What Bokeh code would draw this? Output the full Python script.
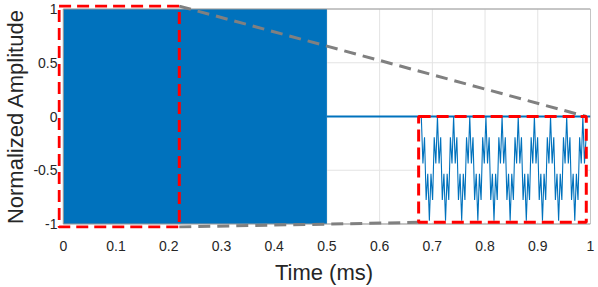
from bokeh.plotting import figure
from bokeh.models import Range1d, FixedTicker
from bokeh.embed import file_html
from bokeh.resources import INLINE

# ---------------- data ----------------
# main trace: dense burst filling +/-1 from 0 to 0.5 ms, then zero to 1 ms
burst_t = [0.0, 0.5]
burst_hi = [1.0, 1.0]
burst_lo = [-1.0, -1.0]
tail_t = [0.5, 1.0]
tail_v = [0.0, 0.0]

# inset: turning points of one period of the zoomed waveform (normalized)
period_shape = [1.0, 0.1, 0.6, -0.6, -0.1, -1.0, -0.1, -0.6, 0.6, 0.1]
period_ms = 0.0212
n_points = 103

x_ticks = [0, 0.1, 0.2, 0.3, 0.4, 0.5, 0.6, 0.7, 0.8, 0.9, 1]
x_tick_labels = ["0", "0.1", "0.2", "0.3", "0.4", "0.5", "0.6", "0.7", "0.8", "0.9", "1"]
y_ticks = [-1, -0.5, 0, 0.5, 1]
y_tick_labels = ["-1", "-0.5", "0", "0.5", "1"]

axes_x = (0.0, 1.0)
axes_y = (-1.0, 1.0)
view_x = (-0.011, 1.0)
view_y = (-1.042, 1.042)
# zoom window (left red box) and inset placement, in main-axes units
zoom_box = (-0.008, 0.22, -1.027, 1.027)      # left, right, bottom, top
inset_box = (0.674, 0.992, -0.985, 0.0)       # left, right, bottom, top
inset_window_t = (-0.0035, 0.2165)            # ms shown inside inset
inset_window_a = (-1.03, 1.0)                 # amplitude shown inside inset

# ---------------- build inset series ----------------
step = period_ms / len(period_shape)
inset_t = [i * step for i in range(n_points)]
inset_v = [period_shape[i % len(period_shape)] for i in range(n_points)]

BLUE = "#0072BD"
TXT = "#262626"
FRAME = "#9a9a9a"
FONT = "Liberation Sans"

p = figure(width=598, height=287, output_backend="svg", toolbar_location=None,
           x_range=Range1d(*view_x), y_range=Range1d(*view_y),
           min_border_left=40, min_border_right=8, min_border_top=4, min_border_bottom=0)
p.background_fill_color = "white"
p.border_fill_color = "white"
p.outline_line_color = None
p.grid.visible = False

for ax in (p.xaxis[0], p.yaxis[0]):
    ax.axis_line_color = None
    ax.major_tick_line_color = None
    ax.minor_tick_line_color = None
    ax.major_tick_in = 0
    ax.major_tick_out = 0
    ax.major_label_text_font = FONT
    ax.major_label_text_font_size = "14px"
    ax.major_label_text_color = TXT
    ax.major_label_text_line_height = 1.0
    ax.axis_label_text_font = FONT
    ax.axis_label_text_font_size = "22px"
    ax.axis_label_text_font_style = "normal"
    ax.axis_label_text_color = TXT
    ax.axis_label_text_line_height = 0.7
p.xaxis.ticker = FixedTicker(ticks=x_ticks)
p.yaxis.ticker = FixedTicker(ticks=y_ticks)
p.xaxis.major_label_overrides = dict(zip(x_ticks, x_tick_labels))
p.yaxis.major_label_overrides = dict(zip(y_ticks, y_tick_labels))
p.xaxis.axis_label = "Time (ms)"
p.yaxis.axis_label = "Normalized Amplitude"
p.xaxis.major_label_standoff = 12
p.xaxis.axis_label_standoff = 6
p.yaxis.major_label_standoff = 0
p.yaxis.axis_label_standoff = 2

# grid lines restricted to the axes box
p.segment(x0=x_ticks, y0=[axes_y[0]] * len(x_ticks), x1=x_ticks, y1=[axes_y[1]] * len(x_ticks),
          line_color="#e3e3e3", line_width=1)
p.segment(x0=[axes_x[0]] * len(y_ticks), y0=y_ticks, x1=[axes_x[1]] * len(y_ticks), y1=y_ticks,
          line_color="#e3e3e3", line_width=1)

# main trace
p.varea(x=burst_t, y1=burst_lo, y2=burst_hi, fill_color=BLUE)

# inset background
p.quad(left=[inset_box[0]], right=[inset_box[1]], bottom=[inset_box[2]], top=[inset_box[3]],
       fill_color="white", line_color=None)

p.line(tail_t, tail_v, line_color=BLUE, line_width=2.2)

# axes box
p.quad(left=[axes_x[0]], right=[axes_x[1]], bottom=[axes_y[0]], top=[axes_y[1]],
       fill_color=None, line_color=FRAME, line_width=1)

# connectors
p.segment(x0=[zoom_box[1], zoom_box[1]], y0=[zoom_box[3], zoom_box[2]],
          x1=[inset_box[1], inset_box[0]], y1=[inset_box[3], inset_box[2]],
          line_color="#808080", line_width=3, line_dash="12 7")

# inset axes via extra ranges
ix0, ix1, iy0, iy1 = inset_box
tw0, tw1 = inset_window_t
aw0, aw1 = inset_window_a
sx = (tw1 - tw0) / (ix1 - ix0)
sy = (aw1 - aw0) / (iy1 - iy0)
p.extra_x_ranges = {"inset": Range1d(tw0 + (view_x[0] - ix0) * sx, tw0 + (view_x[1] - ix0) * sx)}
p.extra_y_ranges = {"inset": Range1d(aw0 + (view_y[0] - iy0) * sy, aw0 + (view_y[1] - iy0) * sy)}
p.line(inset_t, inset_v, x_range_name="inset", y_range_name="inset",
       line_color=BLUE, line_width=1.1)

# red dashed boxes
for b in (zoom_box, inset_box):
    p.quad(left=[b[0]], right=[b[1]], bottom=[b[2]], top=[b[3]],
           fill_color=None, line_color="#ff0000", line_width=3, line_dash="12 6")

open("out.html", "w").write(file_html(p, INLINE))
